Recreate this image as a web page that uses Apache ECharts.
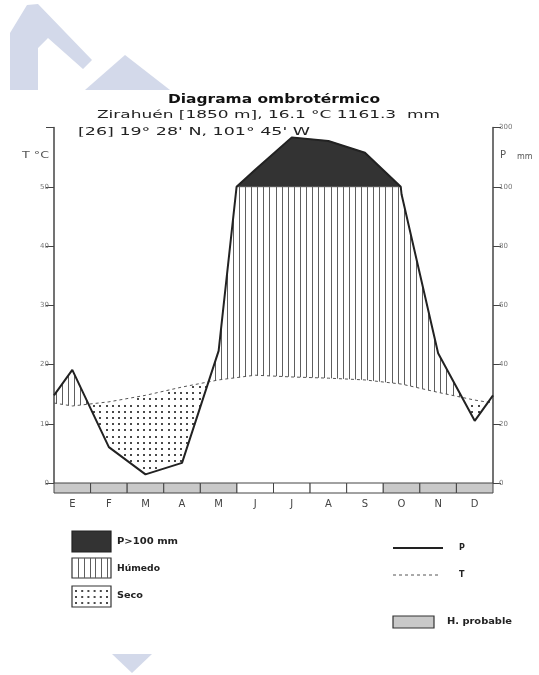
<!DOCTYPE html>
<html><head><meta charset="utf-8">
<script src="https://cdn.jsdelivr.net/npm/echarts@6/dist/echarts.min.js"></script>
<style>html,body{margin:0;padding:0;background:#fff}#c{width:539px;height:675px}</style>
</head><body><div id="c"></div>
<script>
// ---- data ----
const months = ['E','F','M','A','M','J','J','A','S','O','N','D'];
const tempC = [13.0,13.7,14.8,16.2,17.4,18.2,17.9,17.7,17.4,16.7,15.3,14.0];
const precipMm = [38.2,12.1,2.9,6.8,44.6,157.5,267.0,255.0,215.0,97.5,43.8,21.0];
const frostProbable = [1,1,1,1,1,0,0,0,0,1,1,1];
const leftTicks = [0,10,20,30,40,50];
const rightTicks = [0,20,40,60,80,100,300];

// ---- transforms (ombrothermic: P = 2T up to 100 mm, compressed above) ----
function fP(p){ return p <= 100 ? p/2 : 50 + (p-100)/20; }
function fPLabel(v){ return v <= 50 ? String(v*2) : String(rightTicks[rightTicks.length-1]); }
const xs = [0].concat(months.map((m,i)=>i+0.5)).concat([12]);
const tWrap = (tempC[0]+tempC[11])/2, pWrap = (precipMm[0]+precipMm[11])/2;
const Tpts = [tWrap].concat(tempC).concat([tWrap]);
const Ppts = [pWrap].concat(precipMm).concat([pWrap]);
function interp(arr, x){
  for (let k=0;k<xs.length-1;k++){
    if (x <= xs[k+1]) { const f=(x-xs[k])/(xs[k+1]-xs[k]); return arr[k]+f*(arr[k+1]-arr[k]); }
  }
  return arr[arr.length-1];
}
const tLine = xs.map((x,k)=>[x, Tpts[k]]);
const pLine = [];
for (let k=0;k<xs.length;k++){
  if (k>0){ const a=Ppts[k-1], b=Ppts[k];
    if ((a-100)*(b-100) < 0){ const f=(100-a)/(b-a); pLine.push([xs[k-1]+f*(xs[k]-xs[k-1]), 50]); } }
  pLine.push([xs[k], fP(Ppts[k])]);
}
const sampleX = [];
for (let i=0;i<=1200;i++) sampleX.push(i/100);
pLine.forEach(p=>sampleX.push(p[0]));
sampleX.sort((a,b)=>a-b);

function renderAreas(params, api){
  const ch = [];
  const c = (x,y)=>api.coord([x,y]);
  let run = [];
  const flush = ()=>{
    if (run.length>1){
      const pts = run.map(x=>c(x, fP(interp(Ppts,x))));
      for (let i=run.length-1;i>=0;i--) pts.push(c(run[i],50));
      ch.push({type:'polygon', shape:{points:pts}, style:{fill:'#333', stroke:'#333', lineWidth:0.5}});
    }
    run=[];
  };
  sampleX.forEach(x=>{ if (fP(interp(Ppts,x)) >= 50-1e-9) run.push(x); else flush(); });
  flush();
  const x0p = c(0,0)[0], x12p = c(12,0)[0], y0p = c(0,0)[1], y60p = c(0,60)[1];
  for (let px = x0p + 2; px < x12p - 0.5; px += 6.1){
    const rx = Math.round(px)+0.5;
    const x = (rx - x0p)/(x12p-x0p)*12;
    const t = interp(Tpts,x), pd = fP(interp(Ppts,x));
    if (pd > t){
      const top = Math.min(pd,50);
      ch.push({type:'line', shape:{x1:rx,y1:c(x,top)[1],x2:rx,y2:c(x,t)[1]}, style:{stroke:'#5e5e5e', lineWidth:1}});
    }
  }
  for (let px = x0p + 3; px < x12p; px += 6.2){
    const x = (px - x0p)/(x12p-x0p)*12;
    const t = interp(Tpts,x), pd = fP(interp(Ppts,x));
    if (t <= pd) continue;
    for (let py = y0p - 3; py > y60p; py -= 6.2){
      const y = (y0p-py)/(y0p-y60p)*60;
      if (y < t - 0.3 && y > pd + 0.3){
        ch.push({type:'rect', shape:{x:Math.round(px)-1, y:Math.round(py)-1, width:2, height:2}, style:{fill:'#4a4a4a'}});
      }
    }
  }
  for (let i=0;i<12;i++){
    const a = c(i,0), b = c(i+1,0);
    ch.push({type:'rect', shape:{x:a[0], y:a[1], width:b[0]-a[0], height:10},
      style:{fill: frostProbable[i] ? '#c9c9c9' : '#ffffff', stroke:'#444', lineWidth:1}});
  }
  return {type:'group', children: ch};
}

const mctx = document.createElement('canvas').getContext('2d');
function scaledText(str, left, cy, width, font, fill){
  mctx.font = font;
  const w = mctx.measureText(str).width;
  return {type:'text', x:left, y:cy, scaleX: width/w, z:10,
    style:{text:str, x:0, y:0, font:font, fill:fill||'#222', align:'left', verticalAlign:'middle'}};
}

const graphics = [];
const wm = '#d3d9ea';
graphics.push({type:'polygon', z:-5, shape:{points:[[10,33],[27,5],[38,4],[92,60],[83,69],[48,38],[38,48],[38,90],[10,90]]}, style:{fill:wm}});
graphics.push({type:'polygon', z:-5, shape:{points:[[85,90],[125,55],[170,90]]}, style:{fill:wm}});
graphics.push({type:'polygon', z:-5, shape:{points:[[112,654],[152,654],[132,673]]}, style:{fill:wm}});
graphics.push(scaledText('Diagrama ombrotérmico', 168, 100, 212, 'bold 12px "DejaVu Sans"', '#111'));
graphics.push(scaledText('Zirahuén [1850 m], 16.1 °C 1161.3  mm', 97, 115, 343, '11px "DejaVu Sans"', '#222'));
graphics.push(scaledText('[26] 19° 28\' N, 101° 45\' W', 78, 132, 232, '11px "DejaVu Sans"', '#222'));
graphics.push(scaledText('T °C', 22, 156, 27, '9px "DejaVu Sans"', '#555'));
graphics.push({type:'text', x:500, y:155, z:10, style:{text:'P', font:'10px "DejaVu Sans"', fill:'#555', verticalAlign:'middle'}});
graphics.push({type:'text', x:517, y:157, z:10, style:{text:'mm', font:'8px "DejaVu Sans"', fill:'#555', verticalAlign:'middle'}});
graphics.push({type:'rect', shape:{x:72,y:531,width:39,height:21}, style:{fill:'#333', stroke:'#222', lineWidth:1.2}});
graphics.push(scaledText('P>100 mm', 117, 542, 61, 'bold 8px "DejaVu Sans"', '#222'));
graphics.push({type:'rect', shape:{x:72,y:558,width:39,height:20}, style:{fill:'#fff', stroke:'#333', lineWidth:1.2}});
for (let k=0;k<6;k++){ const lx = 72.5 + 5.7*(k+1); graphics.push({type:'line', shape:{x1:Math.round(lx)+0.5,y1:558,x2:Math.round(lx)+0.5,y2:578}, style:{stroke:'#5e5e5e',lineWidth:1}}); }
graphics.push(scaledText('Húmedo', 117, 569, 43, 'bold 8px "DejaVu Sans"', '#222'));
graphics.push({type:'rect', shape:{x:72,y:586,width:39,height:21}, style:{fill:'#fff', stroke:'#333', lineWidth:1.2}});
for (let r=0;r<3;r++) for (let k=0;k<6;k++){ graphics.push({type:'rect', shape:{x:75+k*6.2, y:590+r*6, width:2, height:2}, style:{fill:'#4a4a4a'}}); }
graphics.push(scaledText('Seco', 117, 596, 26, 'bold 8px "DejaVu Sans"', '#222'));
graphics.push({type:'line', shape:{x1:393,y1:548,x2:443,y2:548}, style:{stroke:'#222', lineWidth:2}});
graphics.push({type:'text', x:459, y:548, z:10, style:{text:'P', font:'bold 8px "DejaVu Sans"', fill:'#222', verticalAlign:'middle'}});
graphics.push({type:'line', shape:{x1:393,y1:575,x2:441,y2:575}, style:{stroke:'#555', lineWidth:1, lineDash:[3,3]}});
graphics.push({type:'text', x:459, y:575, z:10, style:{text:'T', font:'bold 8px "DejaVu Sans"', fill:'#222', verticalAlign:'middle'}});
graphics.push({type:'rect', shape:{x:393,y:616,width:41,height:12}, style:{fill:'#c9c9c9', stroke:'#333', lineWidth:1.2}});
graphics.push(scaledText('H. probable', 447, 622, 65, 'bold 8px "DejaVu Sans"', '#222'));

const axisCommon = {
  type:'value', min:0, max:60, interval:10,
  axisLine:{show:true, lineStyle:{color:'#444', width:1.5}},
  axisTick:{show:true, length:8, lineStyle:{color:'#444', width:1}},
  splitLine:{show:false},
};
const option = {
  animation:false,
  backgroundColor:'#fff',
  grid:{left:54, right:46, top:127.6, bottom:192, containLabel:false},
  xAxis:[
    {type:'value', min:0, max:12, show:false},
    {type:'category', data:months, position:'bottom', boundaryGap:true,
      axisLine:{show:false}, axisTick:{show:false},
      axisLabel:{margin:16, fontSize:10, color:'#444', fontFamily:'DejaVu Sans'}}
  ],
  yAxis:[
    Object.assign({}, axisCommon, {position:'left',
      axisLabel:{formatter:v=> leftTicks.indexOf(v)>=0 ? String(v) : '', fontSize:7, color:'#777', margin:5, fontFamily:'DejaVu Sans'}}),
    Object.assign({}, axisCommon, {position:'right',
      axisLabel:{formatter:v=> fPLabel(v), fontSize:7, color:'#777', margin:6, fontFamily:'DejaVu Sans'}})
  ],
  graphic: graphics,
  series:[
    {type:'custom', xAxisIndex:0, yAxisIndex:0, z:1, silent:true, data:[[0,0]], renderItem:renderAreas},
    {type:'line', xAxisIndex:0, yAxisIndex:0, z:3, data:tLine, symbol:'none', silent:true,
      lineStyle:{color:'#555', width:1, type:[3,3]}},
    {type:'line', xAxisIndex:0, yAxisIndex:0, z:4, data:pLine, symbol:'none', silent:true,
      lineStyle:{color:'#222', width:2}}
  ]
};
const chart = echarts.init(document.getElementById('c'));
chart.setOption(option);
</script></body></html>
